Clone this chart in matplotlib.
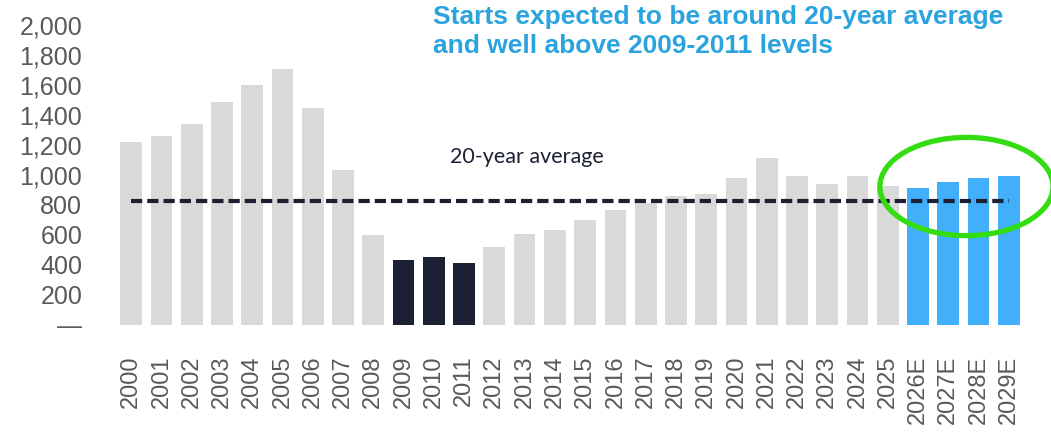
import matplotlib
matplotlib.use("Agg")
import matplotlib.pyplot as plt
from matplotlib.patches import Ellipse


YEARS = [str(y) for y in range(2000, 2026)] + ["2026E", "2027E", "2028E", "2029E"]
STARTS = [
    1222, 1260, 1340, 1489, 1598, 1704, 1449, 1033, 602, 431,
    456, 416, 522, 604, 633, 700, 767, 815, 860, 873,
    978, 1111, 993, 940, 993, 927, 911, 951, 978, 993,
]
TWENTY_YEAR_AVG = 825
LOW_YEARS = ["2009", "2010", "2011"]
Y_TICKS = [0, 200, 400, 600, 800, 1000, 1200, 1400, 1600, 1800, 2000]
Y_TICK_LABELS = ["—", "200", "400", "600", "800", "1,000", "1,200", "1,400", "1,600", "1,800", "2,000"]

GREY = "#d9d9d9"
NAVY = "#1c2033"
BLUE = "#41affa"
TITLE_BLUE = "#2ba3de"
GREEN = "#33dd11"

plt.rcParams["font.family"] = ["Liberation Sans", "DejaVu Sans"]

fig = plt.figure(figsize=(10.51, 4.33), dpi=100)
ax = fig.add_axes([110 / 1051, 108 / 433, 920 / 1051, 305 / 433])

colors = []
for year in YEARS:
    if year.endswith("E"):
        colors.append(BLUE)
    elif year in LOW_YEARS:
        colors.append(NAVY)
    else:
        colors.append(GREY)

x = list(range(len(YEARS)))
ax.bar(x, STARTS, width=0.72, color=colors, zorder=2)
ax.plot([x[0], x[-1]], [TWENTY_YEAR_AVG, TWENTY_YEAR_AVG], color=NAVY,
        linewidth=3, dashes=(2.7, 1.2), zorder=3)
ax.text(10.55, 1120, "20-year average", color=NAVY, fontsize=15.5,
        family=["Lato", "DejaVu Sans"], va="center", ha="left")

# highlight the forecast years
ax.add_patch(Ellipse((27.6, 923), 5.72, 655, fill=False, edgecolor=GREEN,
                     linewidth=3.8, clip_on=False, zorder=4))

ax.set_xlim(-0.7, 29.7)
ax.set_ylim(0, 2033)
ax.set_xticks(x)
ax.set_xticklabels(YEARS, rotation=90, fontsize=17, color="#595959")
ax.set_yticks(Y_TICKS)
ax.set_yticklabels(Y_TICK_LABELS, fontsize=18, color="#595959")
ax.tick_params(axis="both", length=0)
ax.tick_params(axis="y", pad=20)
ax.tick_params(axis="x", pad=22)
for spine in ax.spines.values():
    spine.set_visible(False)

fig.text(433 / 1051, 1 - 5 / 433, "Starts expected to be around 20-year average\nand well above 2009-2011 levels",
         color=TITLE_BLUE, fontsize=19, fontweight="bold", va="top", ha="left", linespacing=1.25)

fig.savefig("out.png", dpi=100)
